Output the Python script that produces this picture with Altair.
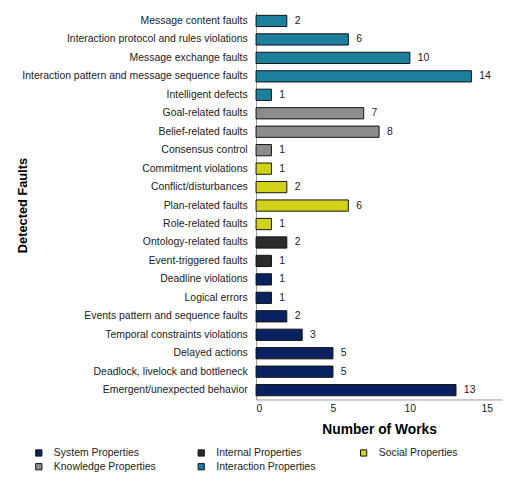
import altair as alt
import pandas as pd

faults = [
    "Message content faults",
    "Interaction protocol and rules violations",
    "Message exchange faults",
    "Interaction pattern and message sequence faults",
    "Intelligent defects",
    "Goal-related faults",
    "Belief-related faults",
    "Consensus control",
    "Commitment violations",
    "Conflict/disturbances",
    "Plan-related faults",
    "Role-related faults",
    "Ontology-related faults",
    "Event-triggered faults",
    "Deadline violations",
    "Logical errors",
    "Events pattern and sequence faults",
    "Temporal constraints violations",
    "Delayed actions",
    "Deadlock, livelock and bottleneck",
    "Emergent/unexpected behavior",
]
works = [2, 6, 10, 14, 1, 7, 8, 1, 1, 2, 6, 1, 2, 1, 1, 1, 2, 3, 5, 5, 13]
groups = (["Interaction Properties"] * 5 + ["Knowledge  Properties"] * 3 +
          ["Social Properties"] * 4 + ["Internal Properties"] * 2 +
          ["System Properties"] * 7)

legend_order = ["System Properties", "Internal Properties", "Social Properties",
                "Knowledge  Properties", "Interaction Properties"]
legend_colors = ["#0b2262", "#2b2b2b", "#d2d21a", "#8c8c8c", "#1c7f9c"]

df = pd.DataFrame({"fault": faults, "works": works, "group": groups})

font = "Liberation Sans"

y_enc = alt.Y("fault:N", sort=faults,
              scale=alt.Scale(paddingInner=0.39, paddingOuter=0.2),
              axis=alt.Axis(title="Detected Faults", titleFont=font, titleFontSize=13,
                            titleFontWeight="bold", titleColor="#000",
                            titleX=-237, titleY=196.5, titleBaseline="middle",
                            labelFont=font, labelFontSize=10.6, labelColor="#222",
                            labelPadding=9, ticks=False, domainColor="#999",
                            labelLimit=400))

bars = alt.Chart(df).mark_bar(stroke="#111", strokeWidth=1).encode(
    x=alt.X("works:Q", scale=alt.Scale(domain=[0, 15]),
            axis=alt.Axis(title="Number of Works", values=[0, 5, 10, 15],
                          titleFont=font, titleFontSize=14, titleFontWeight="bold",
                          titleColor="#000", titlePadding=9,
                          labelFont=font, labelFontSize=10.6, labelColor="#222",
                          ticks=False, domainColor="#999",
                          grid=False, labelPadding=4)),
    y=y_enc,
    fill=alt.Fill("group:N",
                  scale=alt.Scale(domain=legend_order, range=legend_colors),
                  legend=alt.Legend(title=None, orient="none", legendX=-226, legendY=443,
                                    direction="horizontal",
                                    columns=3, symbolType="square", symbolSize=40,
                                    symbolStrokeColor="#111", symbolStrokeWidth=1,
                                    labelFont=font, labelFontSize=10.6, labelColor="#222",
                                    labelOffset=10, columnPadding=37, rowPadding=3,
                                    gridAlign="all", padding=0, labelLimit=300)),
)

labels = alt.Chart(df).mark_text(align="left", dx=8, font=font, fontSize=10.6,
                                 color="#222").encode(
    x="works:Q", y=alt.Y("fault:N", sort=faults), text="works:Q")

chart = (bars + labels).properties(
    width=250, height=394,
    autosize=alt.AutoSizeParams(type="none"),
    padding={"left": 252, "top": 0, "right": 9, "bottom": 71},
).configure_view(stroke=None)

chart.save("out.html", embed_options={"renderer": "svg", "actions": False})
